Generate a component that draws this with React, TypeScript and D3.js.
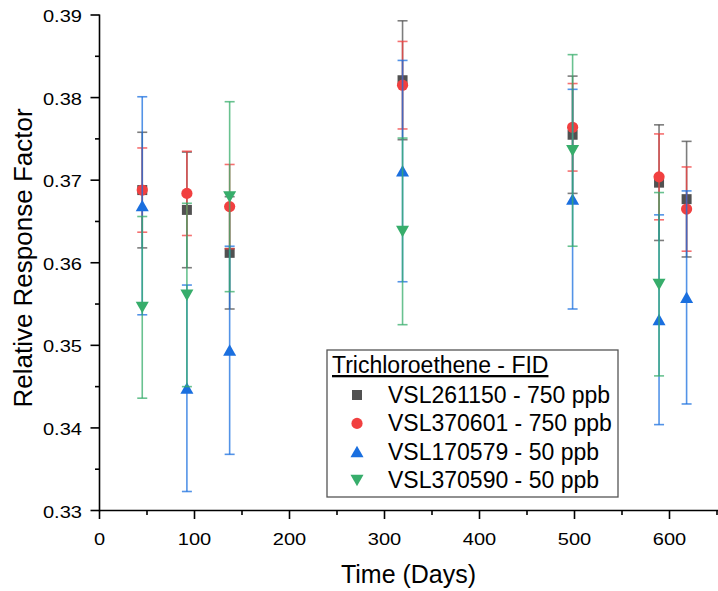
import React from "react";
import * as d3 from "d3";

const days = [45, 92, 137, 319, 498, 589, 618];

const s1Values = [0.3688, 0.3664, 0.3612, 0.3821, 0.3755, 0.3697, 0.3677];
const s1Errors = [0.007, 0.007, 0.0068, 0.0072, 0.0071, 0.007, 0.007];

const s2Values = [0.3688, 0.3684, 0.3668, 0.3815, 0.3764, 0.3704, 0.3665];
const s2Errors = [0.0051, 0.0051, 0.0051, 0.0053, 0.0053, 0.0052, 0.0051];

const s3Values = [0.3669, 0.3448, 0.3494, 0.3711, 0.3677, 0.3531, 0.3558];
const s3Errors = [0.0132, 0.0125, 0.0126, 0.0134, 0.0133, 0.0127, 0.0129];

const s4Values = [0.3546, 0.3561, 0.368, 0.3638, 0.3736, 0.3574];
const s4Errors = [0.011, 0.0111, 0.0115, 0.0113, 0.0116, 0.0111];

const seriesNames = [
  "VSL261150 - 750 ppb",
  "VSL370601 - 750 ppb",
  "VSL170579 - 50 ppb",
  "VSL370590 - 50 ppb",
];
const seriesColors = ["#515151", "#F14040", "#1A6FDF", "#37AD6B"];
const seriesShapes = ["square", "circle", "up", "down"];
const legendTitle = "Trichloroethene - FID";
const xTitle = "Time (Days)";
const yTitle = "Relative Response Factor";

const W = 718;
const H = 591;
const FONT = "Arial, 'Liberation Sans', sans-serif";

function Marker({ shape, x, y, color }: { shape: string; x: number; y: number; color: string }) {
  if (shape === "square") return <rect x={x - 5} y={y - 5} width={10} height={10} fill={color} />;
  if (shape === "circle") return <circle cx={x} cy={y} r={5.6} fill={color} />;
  if (shape === "up")
    return <path d={`M${x},${y - 6} L${x + 6.5},${y + 5.5} L${x - 6.5},${y + 5.5} Z`} fill={color} />;
  return <path d={`M${x},${y + 6} L${x + 6.5},${y - 5.5} L${x - 6.5},${y - 5.5} Z`} fill={color} />;
}

export default function App() {
  const x = d3.scaleLinear().domain([0, 650]).range([99.5, 717]);
  const y = d3.scaleLinear().domain([0.33, 0.39]).range([510.5, 15]);

  const series = [
    { v: s1Values, e: s1Errors },
    { v: s2Values, e: s2Errors },
    { v: s3Values, e: s3Errors },
    { v: s4Values, e: s4Errors },
  ];

  const xMajor = d3.range(0, 601, 100);
  const xMinor = d3.range(50, 651, 100);
  const yMajor = y.ticks(6);
  const yMinor = d3.range(0.335, 0.39, 0.01);

  return (
    <svg
      width={W}
      height={H}
      style={{ position: "absolute", left: 0, top: 0, background: "#fff" }}
      fontFamily={FONT}
    >
      <rect width={W} height={H} fill="#fff" />
      {/* series */}
      {series.map((s, si) => (
        <g key={si}>
          {s.v.map((val, i) => {
            const cx = x(days[i]);
            const y1 = y(val + s.e[i]);
            const y2 = y(val - s.e[i]);
            return (
              <g key={i} stroke={seriesColors[si]} strokeWidth={1.6} strokeOpacity={0.75}>
                <line x1={cx} x2={cx} y1={y1} y2={y2} />
                <line x1={cx - 5} x2={cx + 5} y1={y1} y2={y1} />
                <line x1={cx - 5} x2={cx + 5} y1={y2} y2={y2} />
              </g>
            );
          })}
          {s.v.map((val, i) => (
            <Marker key={"m" + i} shape={seriesShapes[si]} x={x(days[i])} y={y(val)} color={seriesColors[si]} />
          ))}
        </g>
      ))}

      {/* axes */}
      <g stroke="#000" strokeWidth={1.6}>
        <line x1={99.5} x2={718} y1={510.5} y2={510.5} />
        <line x1={99.5} x2={99.5} y1={14.5} y2={511.3} />
        {xMajor.map((t) => (
          <line key={"xM" + t} x1={x(t)} x2={x(t)} y1={510.5} y2={519} />
        ))}
        {xMinor.map((t) => (
          <line key={"xm" + t} x1={x(t)} x2={x(t)} y1={510.5} y2={515} />
        ))}
        {yMajor.map((t) => (
          <line key={"yM" + t} x1={90.5} x2={99.5} y1={y(t)} y2={y(t)} />
        ))}
        {yMinor.map((t) => (
          <line key={"ym" + t} x1={95} x2={99.5} y1={y(t)} y2={y(t)} />
        ))}
      </g>
      {xMajor.map((t) => (
        <text
          key={"xl" + t}
          transform={`translate(${x(t)},544.5) scale(1.18,1)`}
          textAnchor="middle"
          fontSize={17}
          fill="#000"
        >
          {t}
        </text>
      ))}
      {yMajor.map((t) => (
        <text
          key={"yl" + t}
          transform={`translate(82,${y(t) + 7}) scale(1.18,1)`}
          textAnchor="end"
          fontSize={17}
          fill="#000"
        >
          {d3.format(".2f")(t)}
        </text>
      ))}
      <text x={408.5} y={583} textAnchor="middle" fontSize={25} fill="#000">
        {xTitle}
      </text>
      <text transform="translate(32,258) rotate(-90)" textAnchor="middle" fontSize={26} fill="#000">
        {yTitle}
      </text>

      {/* legend */}
      <rect x={327} y={350} width={291} height={147} fill="#fff" stroke="#555" strokeWidth={1.3} />
      <text x={332} y={373} fontSize={23} fill="#000" textDecoration="underline">
        {legendTitle}
      </text>
      {seriesNames.map((n, i) => (
        <g key={n}>
          <Marker shape={seriesShapes[i]} x={357} y={395 + i * 28.4} color={seriesColors[i]} />
          <text x={388} y={403 + i * 28.4} fontSize={23} fill="#000">
            {n}
          </text>
        </g>
      ))}
    </svg>
  );
}
